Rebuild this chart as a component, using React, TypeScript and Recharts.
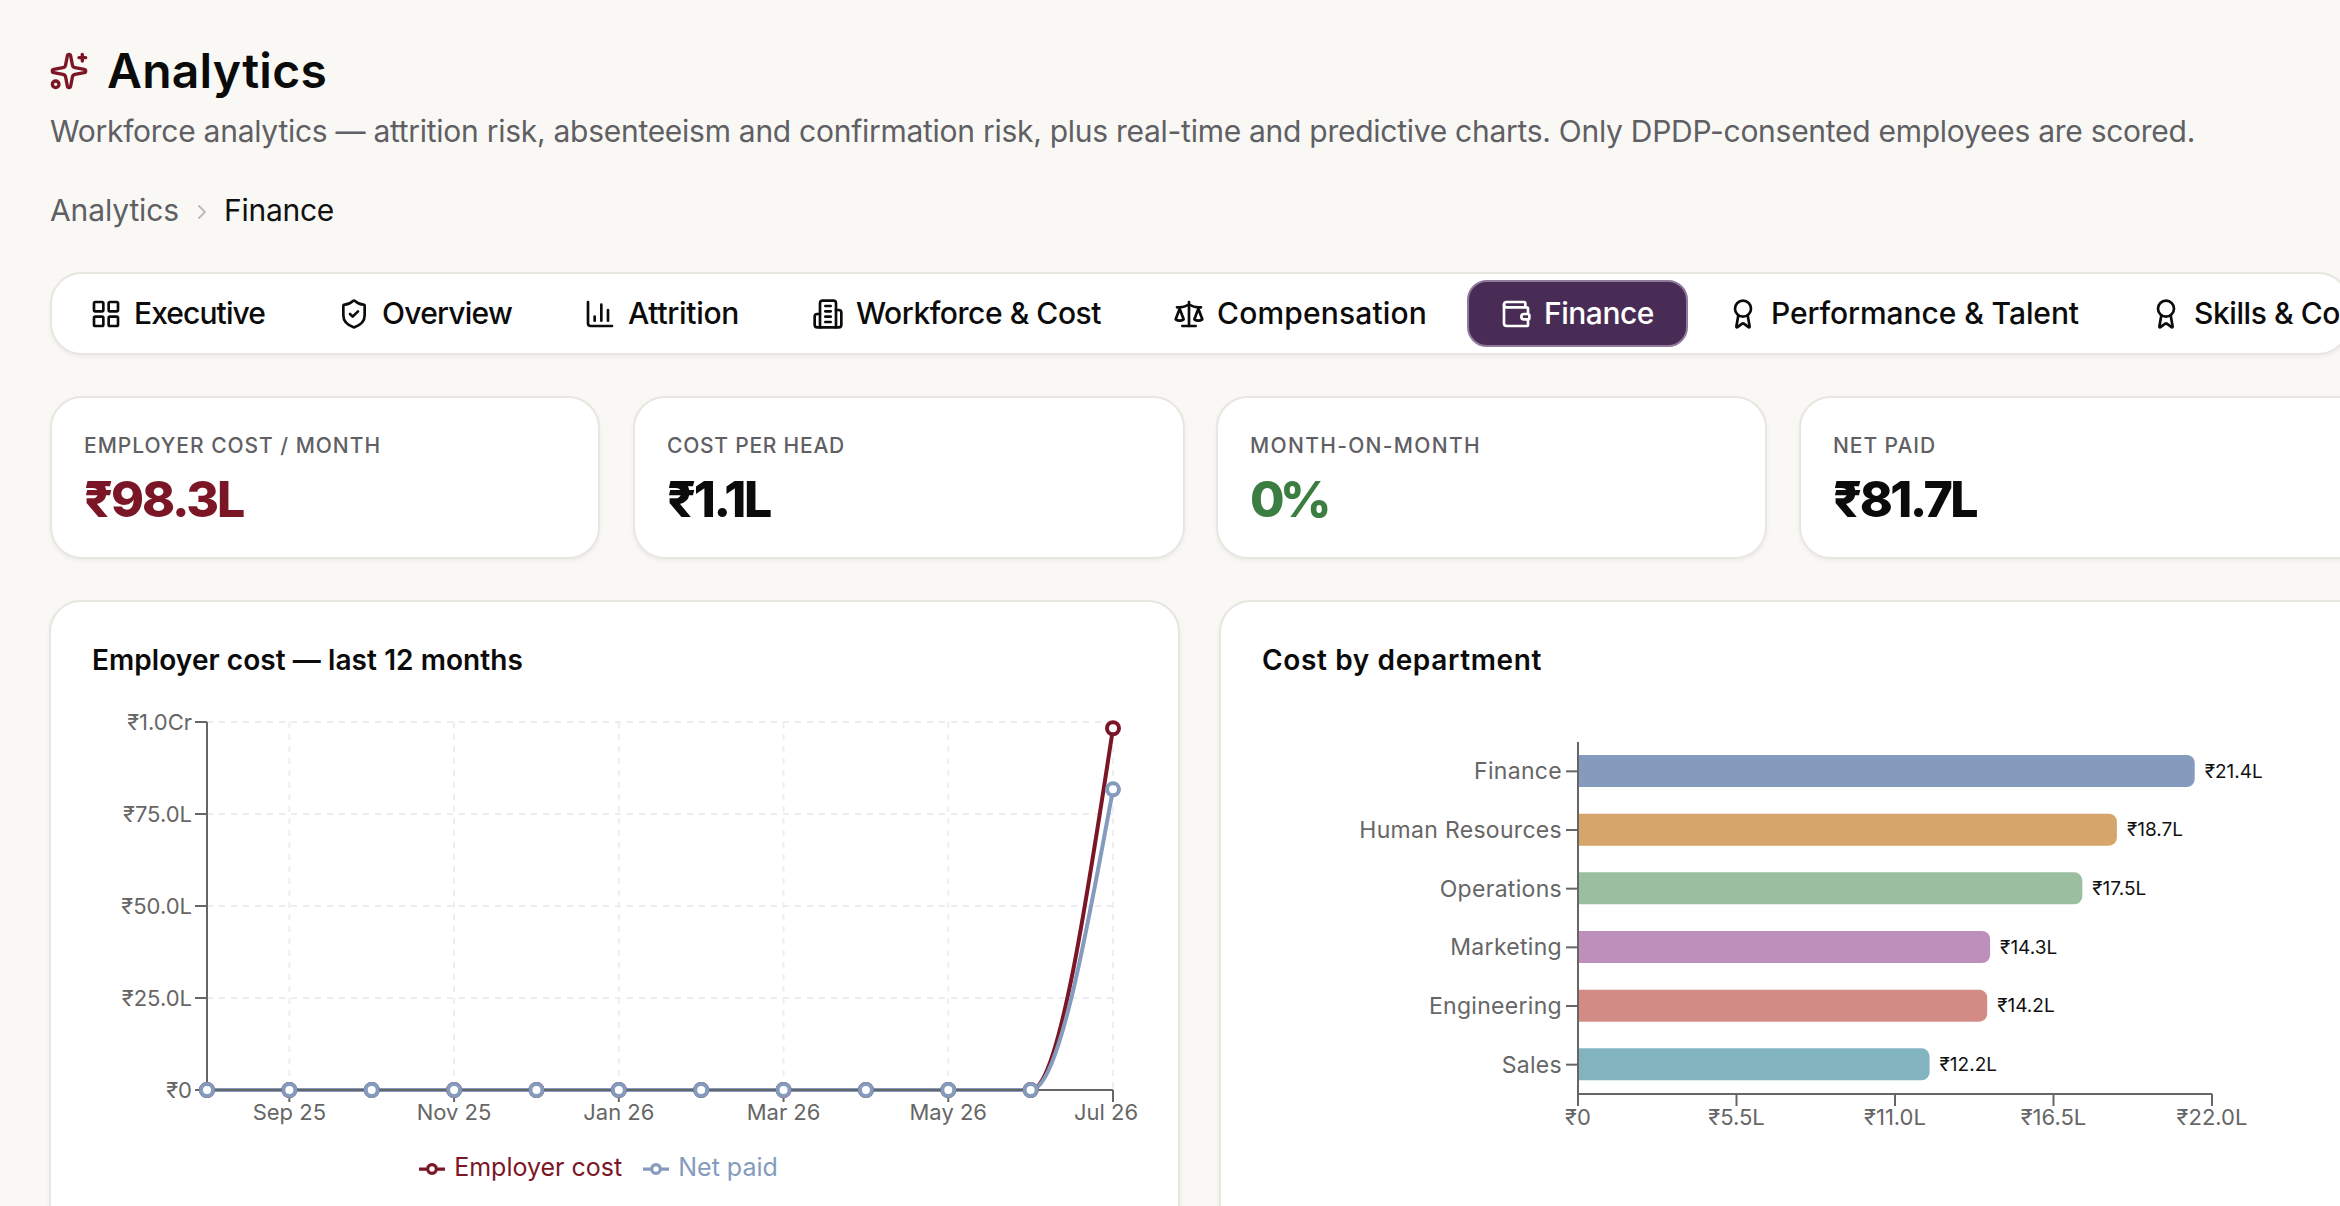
import React from 'react';
import {
  LineChart, Line, BarChart, Bar, XAxis, YAxis, CartesianGrid, Legend, Cell, LabelList,
} from 'recharts';

const FONT = 'Inter, "Noto Sans", sans-serif';

// ---------- chart data ----------
const months = ['Aug 25', 'Sep 25', 'Oct 25', 'Nov 25', 'Dec 25', 'Jan 26', 'Feb 26', 'Mar 26', 'Apr 26', 'May 26', 'Jun 26', 'Jul 26'];
const employerCost = [0, 0, 0, 0, 0, 0, 0, 0, 0, 0, 0, 98.3];
const netPaid = [0, 0, 0, 0, 0, 0, 0, 0, 0, 0, 0, 81.7];
const monthTicks = ['Sep 25', 'Nov 25', 'Jan 26', 'Mar 26', 'May 26', 'Jul 26'];
const costTicks = [0, 25, 50, 75, 100];

const departments = ['Finance', 'Human Resources', 'Operations', 'Marketing', 'Engineering', 'Sales'];
const departmentCost = [21.4, 18.7, 17.5, 14.3, 14.2, 12.2];
const departmentColors = ['#849bbd', '#d6a56b', '#9bbea0', '#bd90bb', '#d38c85', '#82b4bf'];
const departmentTicks = [0, 5.5, 11, 16.5, 22];

const lineData = months.map((month, i) => ({ month, employer: employerCost[i], net: netPaid[i] }));
const barData = departments.map((dept, i) => ({ dept, cost: departmentCost[i], color: departmentColors[i] }));

const money = (v: number) => {
  if (v === 0) return '₹0';
  if (v >= 100) return `₹${(v / 100).toFixed(1)}Cr`;
  return `₹${v.toFixed(1)}L`;
};

// ---------- page chrome ----------
const measure = document.createElement('canvas').getContext('2d')!;

function T({ x, base, w, size, weight = 400, color = '#111', children }: any) {
  const text = String(children);
  measure.font = `${weight} ${size}px Inter`;
  const spacing = (w - measure.measureText(text).width) / text.length;
  return (
    <div style={{
      position: 'absolute', left: x, top: base - 0.969 * size, fontFamily: FONT, fontSize: size, fontWeight: weight,
      lineHeight: 1.21, color, whiteSpace: 'nowrap', letterSpacing: spacing,
    }}>{text}</div>
  );
}

const ICONS: Record<string, React.ReactNode> = {
  sparkles: (<>
    <path d="M11.017 2.814a1 1 0 0 1 1.966 0l1.051 5.558a2 2 0 0 0 1.594 1.594l5.558 1.051a1 1 0 0 1 0 1.966l-5.558 1.051a2 2 0 0 0-1.594 1.594l-1.051 5.558a1 1 0 0 1-1.966 0l-1.051-5.558a2 2 0 0 0-1.594-1.594l-5.558-1.051a1 1 0 0 1 0-1.966l5.558-1.051a2 2 0 0 0 1.594-1.594z" />
    <path d="M20 2v4" /><path d="M22 4h-4" /><circle cx="4" cy="20" r="2" />
  </>),
  grid: (<>
    <rect x="3" y="3" width="7" height="7" rx="1" /><rect x="14" y="3" width="7" height="7" rx="1" />
    <rect x="14" y="14" width="7" height="7" rx="1" /><rect x="3" y="14" width="7" height="7" rx="1" />
  </>),
  shield: (<>
    <path d="M20 13c0 5-3.5 7.5-7.66 8.95a1 1 0 0 1-.67-.01C7.5 20.5 4 18 4 13V6a1 1 0 0 1 1-1c2 0 4.5-1.2 6.24-2.72a1.17 1.17 0 0 1 1.52 0C14.51 3.81 17 5 19 5a1 1 0 0 1 1 1z" />
    <path d="m9 12 2 2 4-4" />
  </>),
  chart: (<>
    <path d="M3 3v16a2 2 0 0 0 2 2h16" /><path d="M18 17V9" /><path d="M13 17V5" /><path d="M8 17v-3" />
  </>),
  building: (<>
    <path d="M6 22V4a2 2 0 0 1 2-2h8a2 2 0 0 1 2 2v18Z" /><path d="M6 12H4a2 2 0 0 0-2 2v6a2 2 0 0 0 2 2h2" />
    <path d="M18 9h2a2 2 0 0 1 2 2v9a2 2 0 0 1-2 2h-2" /><path d="M10 6h4" /><path d="M10 10h4" /><path d="M10 14h4" /><path d="M10 18h4" />
  </>),
  scale: (<>
    <path d="m16 16 3-8 3 8c-.87.65-1.92 1-3 1s-2.13-.35-3-1Z" /><path d="m2 16 3-8 3 8c-.87.65-1.92 1-3 1s-2.13-.35-3-1Z" />
    <path d="M7 21h10" /><path d="M12 3v18" /><path d="M3 7h2c2 0 5-1 7-2 2 1 5 2 7 2h2" />
  </>),
  wallet: (<>
    <path d="M19 7V4a1 1 0 0 0-1-1H5a2 2 0 0 0 0 4h15a1 1 0 0 1 1 1v4h-3a2 2 0 0 0 0 4h3a1 1 0 0 0 1-1v-2a1 1 0 0 0-1-1" />
    <path d="M3 5v14a2 2 0 0 0 2 2h15a1 1 0 0 0 1-1v-4" />
  </>),
  award: (<>
    <path d="m15.477 12.89 1.515 8.526a.5.5 0 0 1-.81.47l-3.58-2.687a1 1 0 0 0-1.197 0l-3.586 2.686a.5.5 0 0 1-.81-.469l1.514-8.526" />
    <circle cx="12" cy="8" r="6" />
  </>),
};

function Icon({ name, x, y, size = 32, color = '#111' }: any) {
  return (
    <svg width={size} height={size} viewBox="0 0 24 24" fill="none" stroke={color} strokeWidth={2}
      strokeLinecap="round" strokeLinejoin="round" style={{ position: 'absolute', left: x, top: y }}>
      {ICONS[name]}
    </svg>
  );
}

function Card({ x, y, w, h, r = 32 }: any) {
  return (
    <div style={{
      position: 'absolute', left: x, top: y, width: w, height: h, boxSizing: 'border-box', background: '#fff',
      border: '2px solid #e8e6e1', borderRadius: r, boxShadow: '0 2px 4px rgba(0,0,0,0.05)',
    }} />
  );
}

const tabs = [
  { label: 'Executive', icon: 'grid', x: 134, w: 131 },
  { label: 'Overview', icon: 'shield', x: 382, w: 130 },
  { label: 'Attrition', icon: 'chart', x: 628, w: 111 },
  { label: 'Workforce & Cost', icon: 'building', x: 856, w: 245 },
  { label: 'Compensation', icon: 'scale', x: 1217, w: 210 },
  { label: 'Finance', icon: 'wallet', x: 1544, w: 110 },
  { label: 'Performance & Talent', icon: 'award', x: 1771, w: 308 },
  { label: 'Skills & Co', icon: 'award', x: 2194, w: 146 },
];

const kpis = [
  { label: 'EMPLOYER COST / MONTH', value: '₹98.3L', x: 84, lw: 297, vw: 159, color: '#7b1626' },
  { label: 'COST PER HEAD', value: '₹1.1L', x: 667, lw: 178, vw: 103, color: '#0b0b0b' },
  { label: 'MONTH-ON-MONTH', value: '0%', x: 1250, lw: 231, vw: 77, color: '#3c7d42' },
  { label: 'NET PAID', value: '₹81.7L', x: 1833, lw: 103, vw: 143, color: '#0b0b0b' },
];
const kpiCards = [[50, 550], [633, 552], [1216, 551], [1799, 580]];

const AXIS = '#666666';
const axisTickText = { fill: '#666666', fontSize: 22, fontFamily: FONT };
const deptTickText = { fill: '#666666', fontSize: 23, letterSpacing: 0.3, fontFamily: FONT };

function MonthTick({ x, y, payload }: any) {
  const shift = payload.value === 'Jul 26' ? -7 : 0;
  return (
    <text x={x + shift} y={y + 16} textAnchor="middle" fill="#666666" fontSize={22} fontFamily={FONT}>
      {payload.value}
    </text>
  );
}

const legendText = (value: string) => <span style={{ marginLeft: 5, marginRight: 11 }}>{value}</span>;

export default function App() {
  return (
    <div style={{ position: 'fixed', left: 0, top: 0, width: 2340, height: 1206, overflow: 'hidden', background: '#f9f8f4', fontFamily: FONT }}>
      <Icon name="sparkles" x={49} y={51} size={40} color="#7b1626" />
      <T x={107} base={89} w={220} size={48} weight={600} color="#0b0b0b">Analytics</T>
      <T x={50} base={142} w={2145} size={30} color="#5f5f64">Workforce analytics — attrition risk, absenteeism and confirmation risk, plus real-time and predictive charts. Only DPDP-consented employees are scored.</T>

      <T x={50} base={221} w={129} size={30} color="#5f5f64">Analytics</T>
      <svg width={24} height={24} viewBox="0 0 24 24" fill="none" stroke="#bdbcbc" strokeWidth={2} strokeLinecap="round" strokeLinejoin="round"
        style={{ position: 'absolute', left: 190, top: 200 }}><path d="m9 6 6 6-6 6" /></svg>
      <T x={224} base={221} w={110} size={30} color="#111">Finance</T>

      <Card x={50} y={272} w={2300} h={83} />
      <div style={{
        position: 'absolute', left: 1467, top: 280, width: 221, height: 67, boxSizing: 'border-box',
        background: '#482c55', border: '2px solid #8f7a9b', borderRadius: 20,
      }} />
      {tabs.map((t) => {
        const active = t.label === 'Finance';
        const color = active ? '#ffffff' : '#0b0b0b';
        return (
          <React.Fragment key={t.label}>
            <Icon name={t.icon} x={t.x - 44} y={298} color={color} />
            <T x={t.x} base={324} w={t.w} size={30} weight={500} color={color}>{t.label}</T>
          </React.Fragment>
        );
      })}

      {kpiCards.map(([x, w]) => <Card key={x} x={x} y={396} w={w} h={163} />)}
      {kpis.map((k) => (
        <React.Fragment key={k.label}>
          <T x={k.x} base={453} w={k.lw} size={21} weight={500} color="#5f5f64">{k.label}</T>
          <T x={k.x} base={517} w={k.vw} size={50} weight={800} color={k.color}>{k.value}</T>
        </React.Fragment>
      ))}

      <Card x={49} y={600} w={1131} h={700} />
      <Card x={1219} y={600} w={1200} h={700} />
      <T x={92} base={671} w={431} size={28} weight={600} color="#0b0b0b">Employer cost — last 12 months</T>
      <T x={1262} base={671} w={280} size={28} weight={600} color="#0b0b0b">Cost by department</T>

      <div style={{ position: 'absolute', left: 100, top: 700 }}>
        <LineChart width={1060} height={490} data={lineData} margin={{ top: 22, right: 47, bottom: 10, left: 0 }}>
          <CartesianGrid stroke="#eeeeee" strokeWidth={2} strokeDasharray="6 6" />
          <XAxis dataKey="month" scale="point" padding={{ left: 0, right: 0 }} ticks={monthTicks} interval={0} height={50}
            stroke={AXIS} strokeWidth={2} tickSize={12} tick={<MonthTick />} />
          <YAxis width={107} domain={[0, 100]} ticks={costTicks} tickFormatter={money} stroke={AXIS} strokeWidth={2}
            tickSize={12} tickMargin={3} tick={axisTickText} />
          <Legend iconSize={26} height={40} formatter={legendText}
            wrapperStyle={{ left: 269, width: 480, bottom: -2, fontSize: 25, fontFamily: FONT }} />
          <Line name="Employer cost" dataKey="employer" type="monotone" stroke="#7b1626" strokeWidth={4}
            dot={{ r: 6, strokeWidth: 4, fill: '#fff' }} isAnimationActive={false} />
          <Line name="Net paid" dataKey="net" type="monotone" stroke="#849bbd" strokeWidth={4}
            dot={{ r: 6, strokeWidth: 4, fill: '#fff' }} isAnimationActive={false} />
        </LineChart>
      </div>

      <div style={{ position: 'absolute', left: 1230, top: 700 }}>
        <BarChart width={1100} height={460} layout="vertical" data={barData} margin={{ top: 42, right: 118, bottom: 0, left: 0 }}>
          <XAxis type="number" domain={[0, 22]} ticks={departmentTicks} tickFormatter={money} height={66} stroke={AXIS} strokeWidth={2}
            tickSize={12} tickMargin={3} tick={axisTickText} />
          <YAxis type="category" dataKey="dept" width={348} stroke={AXIS} strokeWidth={2} tickSize={12} tickMargin={4} tick={deptTickText} interval={0} />
          <Bar dataKey="cost" barSize={32} radius={[0, 8, 8, 0]} isAnimationActive={false}>
            {barData.map((d) => <Cell key={d.dept} fill={d.color} />)}
            <LabelList dataKey="cost" position="right" offset={10} formatter={money} fill="#111111" fontSize={19} fontFamily={FONT} />
          </Bar>
        </BarChart>
      </div>
    </div>
  );
}
